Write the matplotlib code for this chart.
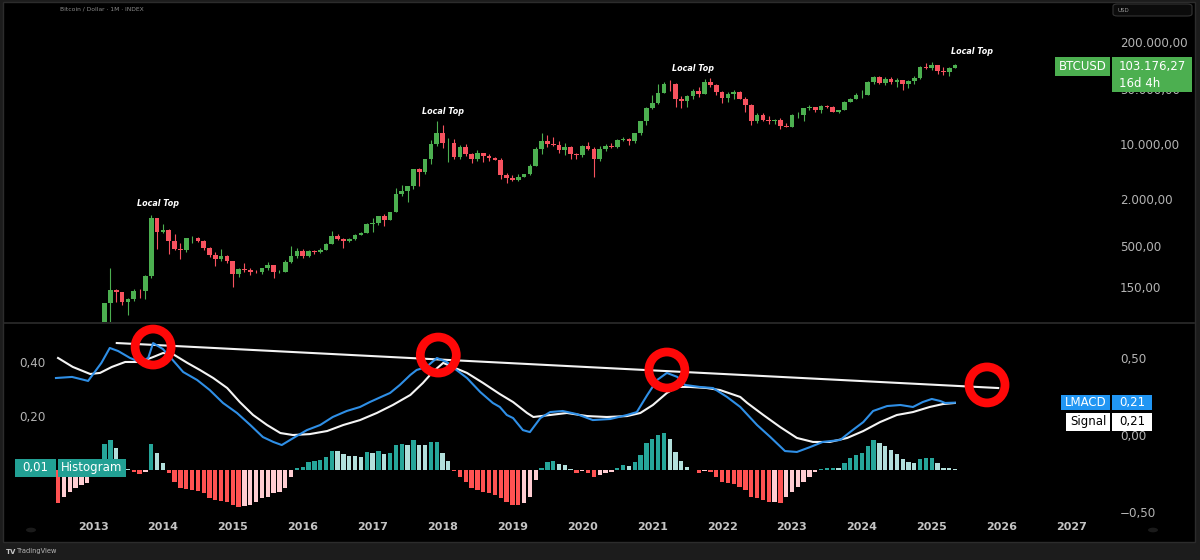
import matplotlib
matplotlib.use("Agg")
import matplotlib.pyplot as plt
from matplotlib.patches import Rectangle, FancyBboxPatch, Circle
from matplotlib.ticker import NullLocator
from matplotlib.lines import Line2D

W, H = 1200, 560

# ---- monthly candles, Jan 2013 .. May 2025 ----
first_year = 2013
first_open = 13.3
close = [20.4, 33.4, 93, 139, 128.5, 97, 106, 135, 133, 206, 1129, 745,
         800, 573, 457, 448, 628, 640, 586, 478, 388, 338, 375, 320,
         217, 254, 244, 236, 230, 263, 284, 230, 236, 313, 377, 430,
         368, 436, 416, 448, 531, 674, 622, 573, 609, 700, 742, 963,
         970, 1190, 1080, 1350, 2300, 2480, 2875, 4735, 4340, 6450, 9950, 13860,
         10270, 10330, 6930, 9240, 7490, 6400, 7730, 7030, 6630, 6320, 4020, 3740,
         3460, 3820, 4100, 5320, 8570, 10820, 10080, 9600, 8290, 9150, 7550, 7200,
         9350, 8530, 6410, 8630, 9450, 9140, 11330, 11650, 10780, 13800, 19700, 28950,
         33100, 45200, 58800, 57750, 37300, 35050, 41500, 47150, 43800, 61300, 56900, 46300,
         38480, 43180, 45530, 37700, 31800, 19950, 23300, 20050, 19420, 20490, 17170, 16550,
         23130, 23150, 28480, 29250, 27220, 30480, 29230, 25940, 26960, 34650, 37720, 42280,
         42580, 61130, 71330, 60670, 67530, 62680, 64620, 58970, 63330, 70220, 96400, 93400,
         102400, 84350, 82550, 94200, 103176.27]
high = [20.4, 33.5, 95, 266, 140, 129, 110, 140, 143, 215, 1240, 1150,
        950, 830, 710, 545, 630, 680, 650, 600, 485, 420, 460, 385,
        320, 265, 300, 260, 245, 265, 315, 285, 245, 330, 500, 470,
        462, 448, 440, 468, 550, 780, 705, 630, 625, 720, 750, 975,
        1150, 1210, 1290, 1355, 2760, 3000, 2920, 4750, 5000, 6470, 11400, 19800,
        17250, 11800, 11700, 9750, 9990, 7770, 8490, 7760, 7400, 6780, 6600, 4300,
        4070, 4200, 4150, 5640, 9070, 13900, 13150, 12300, 10950, 10370, 9510, 7750,
        9580, 10500, 9190, 9460, 10070, 10380, 11450, 12470, 12080, 14000, 19850, 29300,
        41950, 58350, 61800, 64850, 59500, 41300, 42300, 50500, 52900, 67000, 69000, 59050,
        47950, 45800, 48200, 47450, 39900, 31950, 24650, 25200, 22800, 21080, 21450, 18400,
        23950, 25250, 29200, 31000, 29850, 31400, 31850, 30200, 27500, 35250, 38500, 44700,
        48950, 64000, 73800, 72700, 72000, 71950, 70000, 65100, 66500, 73600, 99800, 108300,
        109600, 102500, 95000, 95800, 105000]
low = [12.9, 19.6, 33, 50, 98, 89, 65, 100, 110, 105, 198, 455,
       740, 400, 440, 340, 420, 550, 560, 440, 360, 275, 320, 305,
       152, 200, 235, 215, 225, 217, 250, 195, 225, 235, 300, 350,
       354, 365, 400, 412, 440, 530, 600, 470, 570, 605, 685, 740,
       750, 915, 900, 1060, 1350, 2200, 1840, 2670, 2950, 4110, 5500, 9400,
       9000, 5970, 6450, 6450, 7050, 5780, 6100, 5880, 6100, 6200, 3560, 3140,
       3400, 3390, 3750, 4040, 5300, 7450, 9100, 9360, 7700, 7300, 6520, 6430,
       6860, 8400, 3850, 6150, 8100, 8900, 8980, 10950, 9850, 10370, 13200, 17600,
       28100, 32300, 45000, 47050, 30000, 28800, 29300, 37300, 39600, 43300, 53300, 42000,
       32950, 34300, 37200, 37600, 25400, 17600, 18800, 19550, 18150, 18200, 15500, 16300,
       16500, 21400, 19550, 26950, 25800, 24800, 28850, 25300, 24950, 26950, 34100, 37600,
       38500, 41900, 59000, 59100, 56500, 58400, 53500, 49000, 52550, 58900, 67500, 90500,
       89200, 78200, 76600, 74400, 93500]

# ---- LMACD histogram, monthly from Jul 2012 ----
hist_first = 2012.5
hist = [-0.122, -0.100, -0.080, -0.067, -0.056, -0.048,
        -0.025, 0.020, 0.096, 0.111, 0.081, 0.030, 0.005, -0.006, -0.015, -0.006, 0.095, 0.063,
        0.027, -0.011, -0.043, -0.067, -0.070, -0.074, -0.077, -0.085, -0.104, -0.111, -0.115, -0.119,
        -0.130, -0.137, -0.135, -0.130, -0.117, -0.104, -0.099, -0.086, -0.080, -0.067, -0.025, 0.008,
        0.012, 0.031, 0.033, 0.037, 0.049, 0.072, 0.070, 0.059, 0.052, 0.051, 0.049, 0.067,
        0.062, 0.071, 0.059, 0.062, 0.093, 0.096, 0.092, 0.111, 0.092, 0.091, 0.102, 0.103,
        0.064, 0.033, -0.005, -0.025, -0.043, -0.068, -0.074, -0.080, -0.086, -0.093, -0.105, -0.117,
        -0.130, -0.131, -0.124, -0.099, -0.037, 0.009, 0.028, 0.033, 0.021, 0.020, 0.002, -0.010,
        -0.005, -0.010, -0.025, -0.018, -0.012, -0.006, 0.006, 0.017, 0.014, 0.028, 0.055, 0.099,
        0.114, 0.130, 0.136, 0.115, 0.068, 0.033, 0.012, 0.001, -0.012, -0.003, -0.006, -0.025,
        -0.043, -0.049, -0.053, -0.062, -0.074, -0.099, -0.105, -0.111, -0.120, -0.117, -0.122, -0.100,
        -0.080, -0.062, -0.046, -0.025, -0.006, 0.002, 0.008, 0.009, 0.007, 0.025, 0.043, 0.056,
        0.062, 0.089, 0.111, 0.099, 0.089, 0.074, 0.058, 0.040, 0.031, 0.027, 0.041, 0.043,
        0.044, 0.025, 0.009, 0.006, 0.005]

# ---- LMACD and signal lines ----
lmacd_t = [2012.47, 2012.70, 2012.93, 2013.12, 2013.24, 2013.36, 2013.53, 2013.67, 2013.79, 2013.86,
           2014.00, 2014.14, 2014.29, 2014.49, 2014.67, 2014.86, 2015.06, 2015.25, 2015.43, 2015.58,
           2015.70, 2015.89, 2016.06, 2016.25, 2016.43, 2016.63, 2016.82, 2016.96, 2017.15, 2017.25,
           2017.39, 2017.54, 2017.63, 2017.77, 2017.92, 2018.06, 2018.20, 2018.35, 2018.54, 2018.72,
           2018.82, 2018.92, 2019.01, 2019.15, 2019.25, 2019.40, 2019.54, 2019.72, 2019.92, 2020.15,
           2020.40, 2020.64, 2020.78, 2020.93, 2021.07, 2021.21, 2021.36, 2021.47, 2021.68, 2021.87,
           2022.07, 2022.26, 2022.50, 2022.69, 2022.90, 2023.07, 2023.26, 2023.44, 2023.69, 2023.83,
           2024.02, 2024.16, 2024.36, 2024.55, 2024.73, 2024.87, 2025.00, 2025.12, 2025.19, 2025.33]
lmacd_v = [0.370, 0.377, 0.351, 0.468, 0.565, 0.545, 0.500, 0.474, 0.500, 0.597,
           0.558, 0.487, 0.409, 0.357, 0.292, 0.208, 0.143, 0.065, -0.013, -0.045,
           -0.065, -0.013, 0.032, 0.065, 0.117, 0.156, 0.182, 0.214, 0.253, 0.273,
           0.325, 0.390, 0.422, 0.442, 0.500, 0.474, 0.422, 0.370, 0.279, 0.208,
           0.182, 0.130, 0.110, 0.032, 0.019, 0.110, 0.149, 0.156, 0.136, 0.097,
           0.104, 0.130, 0.149, 0.260, 0.357, 0.403, 0.377, 0.325, 0.312, 0.305,
           0.247, 0.182, 0.065, -0.013, -0.104, -0.110, -0.078, -0.045, -0.032, 0.019,
           0.084, 0.156, 0.188, 0.195, 0.182, 0.214, 0.234, 0.221, 0.208, 0.210]
signal_t = [2012.50, 2012.71, 2012.96, 2013.10, 2013.27, 2013.46, 2013.67, 2013.86, 2014.00, 2014.14,
            2014.35, 2014.53, 2014.72, 2014.92, 2015.10, 2015.29, 2015.49, 2015.68, 2015.86, 2016.10,
            2016.35, 2016.58, 2016.82, 2017.06, 2017.29, 2017.54, 2017.72, 2017.86, 2018.01, 2018.18,
            2018.35, 2018.58, 2018.82, 2019.01, 2019.21, 2019.30, 2019.54, 2019.78, 2020.07, 2020.35,
            2020.64, 2020.83, 2021.01, 2021.21, 2021.36, 2021.54, 2021.78, 2021.97, 2022.26, 2022.36,
            2022.59, 2022.83, 2023.07, 2023.30, 2023.54, 2023.79, 2024.02, 2024.26, 2024.50, 2024.73,
            2024.97, 2025.16, 2025.33]
signal_v = [0.500, 0.442, 0.396, 0.403, 0.442, 0.474, 0.474, 0.506, 0.532, 0.526,
            0.468, 0.422, 0.370, 0.305, 0.214, 0.130, 0.065, 0.013, 0.000, 0.006,
            0.026, 0.065, 0.097, 0.143, 0.195, 0.260, 0.338, 0.409, 0.468, 0.435,
            0.403, 0.338, 0.266, 0.214, 0.143, 0.117, 0.130, 0.143, 0.123, 0.117,
            0.123, 0.143, 0.195, 0.273, 0.312, 0.312, 0.305, 0.292, 0.247, 0.208,
            0.130, 0.052, -0.019, -0.045, -0.045, -0.019, 0.026, 0.084, 0.130, 0.149,
            0.182, 0.201, 0.208]

# annotations drawn on the chart
trend_t = [2013.34, 2025.95]
trend_v = [0.597, 0.305]
circle_t = [2013.86, 2017.94, 2021.21, 2025.79]
circle_v = [0.571, 0.519, 0.422, 0.325]
top_t = [2013.93, 2018.01, 2021.58, 2025.58]
top_p = [1718, 26360, 90600, 153500]

price_ticks = [150, 500, 2000, 10000, 50000, 200000]
macd_ticks = [-0.5, 0.0, 0.5]
hist_ticks = [0.2, 0.4]
year_ticks = list(range(2013, 2028))
last_price = 103176.27
lmacd_last = 0.21
signal_last = 0.21
hist_last = 0.01


def de(v, nd=2):
    s = f"{abs(v):,.{nd}f}".replace(",", " ").replace(".", ",").replace(" ", ".")
    return ("\u2212" + s) if v < 0 else s


def fx(x):
    return x / W


def fy(y):
    return 1 - y / H


def box(x0, y0, x1, y1, color, z=6, **kw):
    fig.patches.append(Rectangle((fx(x0), fy(y1)), (x1 - x0) / W, (y1 - y0) / H,
                                 transform=fig.transFigure, facecolor=color,
                                 edgecolor=kw.get("ec", "none"), lw=kw.get("lw", 0), zorder=z))


def label(x, y, s, color="white", size=8.5, ha="left", z=7, **kw):
    fig.text(fx(x), fy(y), s, color=color, fontsize=size, ha=ha, va="center", zorder=z, **kw)


fig = plt.figure(figsize=(12, 5.6), dpi=100, facecolor="#1c1c1c")
box(3, 2, 1195, 542, "black", z=-1, ec="#2c2c2c", lw=1)

x_lo, x_hi = 2011.741, 2027.578
axis_grey = "#b4b4b4"

# ---- price pane ----
ax_p = fig.add_axes([fx(5), fy(322), 1107 / W, 317 / H])
ax_p.set_facecolor("black")
months = [first_year + i / 12 for i in range(len(close))]
opens = [first_open] + close[:-1]
up = [c >= o for o, c in zip(opens, close)]
ccol = ["#4caf50" if u else "#f7525f" for u in up]
ax_p.vlines(months, low, high, colors=ccol, lw=0.8, zorder=2)
ax_p.bar(months, [abs(c - o) for o, c in zip(opens, close)], bottom=[min(o, c) for o, c in zip(opens, close)],
         width=0.8 / 12, color=ccol, zorder=3)
ax_p.set_yscale("log")
ax_p.set_ylim(53.7, 593000)
ax_p.set_xlim(x_lo, x_hi)
ax_p.yaxis.tick_right()
ax_p.set_yticks(price_ticks, [de(v) for v in price_ticks])
ax_p.yaxis.set_minor_locator(NullLocator())
ax_p.tick_params(axis="y", length=0, pad=5.8, colors=axis_grey, labelsize=8.6)
ax_p.tick_params(axis="x", length=0, labelbottom=False)
for s in ax_p.spines.values():
    s.set_visible(False)
for t, p in zip(top_t, top_p):
    ax_p.text(t, p, "Local Top", ha="center", va="center", color="white", fontsize=5.8,
              fontweight="bold", fontstyle="italic")

# ---- indicator pane ----
ax_h = fig.add_axes([fx(5), fy(517), 1107 / W, 194 / H])
ax_h.set_facecolor("black")
hx = [hist_first + i / 12 for i in range(len(hist))]
hcol = []
for i, v in enumerate(hist):
    prev = hist[i - 1] if i else v
    if v >= 0:
        hcol.append("#26a69a" if v > prev else "#b2dfdb")
    else:
        hcol.append("#ff5252" if v < prev or i == 0 else "#ffcdd2")
ax_h.bar(hx, hist, width=0.74 / 12, color=hcol, zorder=2)
ax_h.set_xlim(x_lo, x_hi)
ax_h.set_ylim(-0.174, 0.544)
ax_h.set_yticks(hist_ticks, [de(v) for v in hist_ticks])
ax_h.tick_params(axis="y", length=0, pad=-29, colors=axis_grey, labelsize=8.6)
ax_h.set_xticks(year_ticks, [str(y) for y in year_ticks])
ax_h.tick_params(axis="x", length=0, pad=3.5, colors="#c4c4c4", labelsize=8)
for lb in ax_h.get_xticklabels():
    lb.set_fontweight("bold")
for s in ax_h.spines.values():
    s.set_visible(False)

ax_l = ax_h.twinx()
ax_l.set_ylim(-0.532, 0.727)
ax_l.plot(lmacd_t, lmacd_v, color="#2f8fe6", lw=1.5, zorder=3)
ax_l.plot(signal_t, signal_v, color="#f4f4f4", lw=1.5, zorder=2)
ax_l.plot(trend_t, trend_v, color="#f4f4f4", lw=1.5, zorder=2)
ax_l.scatter(circle_t, circle_v, s=672, facecolors="none", edgecolors="#ff0808", linewidths=6.3, zorder=5)
ax_l.set_yticks(macd_ticks, [de(v) for v in macd_ticks])
ax_l.tick_params(axis="y", length=0, pad=5.8, colors=axis_grey, labelsize=8.6)
for s in ax_l.spines.values():
    s.set_visible(False)

# pane separator
fig.add_artist(Line2D([fx(4), fx(1194)], [fy(322.5), fy(322.5)], transform=fig.transFigure,
                      color="#2c2c2c", lw=1.2, zorder=4))

# ---- value labels on the scales ----
yp = H - ax_p.transData.transform((2020, last_price))[1]
box(1055, yp - 8, 1110, yp + 11, "#4caf50")
label(1082.5, yp + 1.5, "BTCUSD", ha="center")
box(1112, yp - 8, 1192, yp + 27, "#4caf50")
label(1119, yp + 1.5, de(last_price))
label(1119, yp + 18.5, "16d 4h")

ym = H - ax_l.transData.transform((2020, lmacd_last))[1]
box(1061, ym - 8, 1110, ym + 7, "#2196f3")
box(1112, ym - 8, 1152, ym + 7, "#2196f3")
label(1085.5, ym, "LMACD", ha="center")
label(1132, ym, de(lmacd_last), ha="center")
ys = ym + 19
box(1066, ys - 9, 1110, ys + 9, "white")
box(1112, ys - 9, 1152, ys + 9, "white")
label(1088, ys, "Signal", color="black", ha="center")
label(1132, ys, de(signal_last), color="black", ha="center")

yh = H - ax_h.transData.transform((2020, hist_last))[1]
box(15, yh - 8.5, 56, yh + 9.5, "#22a094")
box(58, yh - 8.5, 126, yh + 9.5, "#22a094")
label(35.5, yh + 0.5, de(hist_last), ha="center")
label(92, yh + 0.5, "Histogram", ha="center")

# ---- chrome ----
label(60, 9, "Bitcoin / Dollar \u00b7 1M \u00b7 INDEX", color="#8c8c8c", size=4.3)
fig.patches.append(FancyBboxPatch((fx(1113), fy(16)), 79 / W, 12 / H, boxstyle="round,pad=0,rounding_size=0.004",
                                  transform=fig.transFigure, facecolor="#0b0b0b", edgecolor="#333333",
                                  lw=0.8, zorder=6))
label(1118, 10, "USD", color="#9a9a9a", size=4)
for cx in (31, 1153):
    fig.patches.append(Circle((fx(cx), fy(530)), 5 / W, transform=fig.transFigure,
                              facecolor="#1a1a1a", edgecolor="none", zorder=6))
label(6, 551.5, "TV", color="#c8c8c8", size=5, fontweight="bold")
label(17, 551.5, "TradingView", color="#b8b8b8", size=4.8)

fig.savefig("out.png", dpi=100, facecolor=fig.get_facecolor())
